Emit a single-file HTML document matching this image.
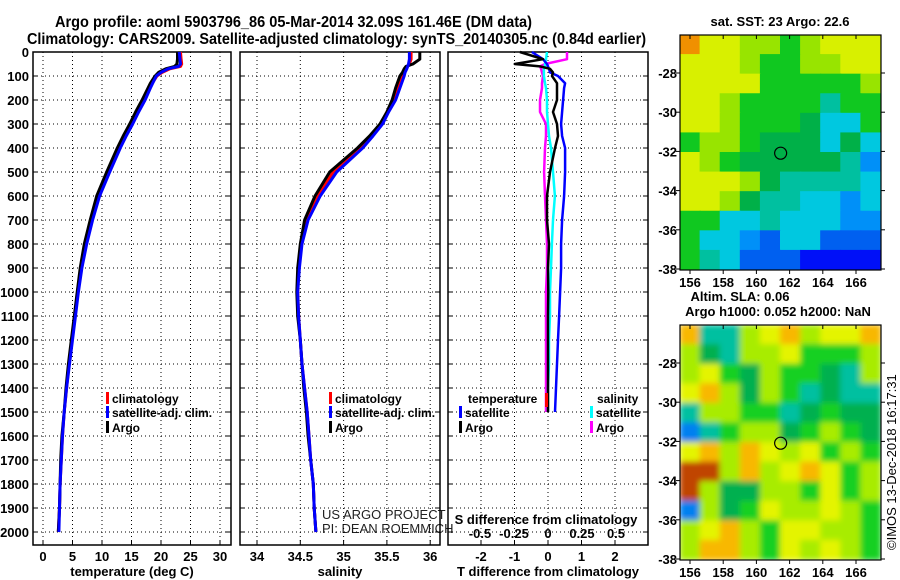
<!DOCTYPE html>
<html><head><meta charset="utf-8"><style>
body{margin:0;background:#fff;}
svg{display:block;font-family:"Liberation Sans",sans-serif;}
.b{font-weight:bold;}
</style></head><body>
<svg id="s" width="900" height="580" xmlns="http://www.w3.org/2000/svg">
<text x="55" y="27" class="b" font-size="16" textLength="477" lengthAdjust="spacingAndGlyphs">Argo profile: aoml 5903796_86 05-Mar-2014 32.09S 161.46E (DM data)</text>
<text x="27" y="44" class="b" font-size="16" textLength="619" lengthAdjust="spacingAndGlyphs">Climatology: CARS2009. Satellite-adjusted climatology: synTS_20140305.nc (0.84d earlier)</text>
<text x="780" y="26" class="b" font-size="13" text-anchor="middle">sat. SST: 23 Argo: 22.6</text>
<text x="740" y="301" class="b" font-size="13" text-anchor="middle">Altim. SLA: 0.06</text>
<text x="778" y="316" class="b" font-size="13" text-anchor="middle">Argo h1000: 0.052 h2000: NaN</text>
<text transform="translate(896,550) rotate(-90)" font-size="13">©IMOS 13-Dec-2018 16:17:31</text>
<text x="322" y="519" font-size="13" fill="#222">US ARGO PROJECT</text>
<text x="322" y="533" font-size="13" fill="#222">PI: DEAN ROEMMICH</text>
</svg>
<script>
// ---- data ----
const depths = [0,30,50,60,70,85,100,130,150,200,250,300,350,400,500,600,700,800,900,1000,1100,1200,1300,1400,1500,1600,1700,1800,1900,2000];
const argoT = [22.8,22.8,22.7,22.3,20.8,19.6,19.0,18.2,17.8,16.8,15.7,14.7,13.6,12.6,10.8,9.1,8.0,7.0,6.3,5.8,5.3,4.8,4.3,3.9,3.6,3.2,3.0,2.9,2.8,2.6];
const climT = [23.3,23.4,23.5,23.3,21.5,20.2,19.3,18.5,18.0,17.0,15.9,14.9,13.8,12.8,11.1,9.5,8.2,7.2,6.5,5.9,5.4,4.9,4.4,4.0,3.6,3.3,3.1,2.9,2.8,2.6];
const satT = [23.1,23.2,23.3,23.0,21.2,20.0,19.2,18.6,18.2,17.3,16.2,15.2,14.1,13.1,11.3,9.6,8.4,7.4,6.6,6.0,5.5,5.0,4.5,4.0,3.6,3.3,3.1,2.9,2.8,2.7];
const argoS = [35.88,35.88,35.8,35.72,35.7,35.68,35.65,35.62,35.6,35.56,35.5,35.42,35.3,35.16,34.84,34.67,34.55,34.5,34.47,34.46,34.47,34.5,34.52,34.54,34.57,34.59,34.62,34.65,34.66,34.68];
const climS = [35.78,35.78,35.76,35.74,35.72,35.7,35.68,35.64,35.62,35.57,35.5,35.43,35.32,35.19,34.88,34.7,34.57,34.51,34.48,34.47,34.48,34.5,34.52,34.55,34.58,34.6,34.62,34.65,34.66,34.68];
const satS = [35.76,35.76,35.75,35.74,35.73,35.71,35.7,35.67,35.65,35.6,35.52,35.45,35.34,35.22,34.92,34.73,34.59,34.52,34.49,34.47,34.48,34.5,34.52,34.55,34.58,34.6,34.62,34.65,34.66,34.68];
const diffDepths = [0,30,50,60,70,85,100,130,150,200,250,300,350,400,500,600,700,800,900,1000,1100,1200,1300,1400,1500];
const satTdiff = [-0.48,-0.15,-0.03,0,0.03,0.06,0.30,0.51,0.48,0.45,0.42,0.39,0.42,0.51,0.51,0.48,0.42,0.39,0.39,0.36,0.33,0.30,0.27,0.24,0.21];
const argoTdiff = [-0.84,-0.15,-0.99,-0.24,0.06,0.15,0.12,0.27,0.27,0.27,0.15,0.27,0.30,0.21,0.06,-0.03,-0.03,0.03,0,0.01,0,0,0,0,0];
const satSdiff = [-0.007,-0.015,-0.022,-0.022,-0.03,-0.03,-0.03,-0.022,-0.015,-0.007,-0.007,0,0.007,0.022,0.037,0.051,0.037,0.029,0.022,0.015,0.015,0.007,0.007,0,0];
const argoSdiff = [0.14,0.14,-0.022,-0.059,-0.051,-0.044,-0.037,-0.044,-0.044,-0.059,-0.059,-0.015,-0.015,-0.022,-0.029,-0.022,-0.015,-0.007,-0.007,-0.015,-0.015,-0.015,-0.015,-0.015,-0.015];
const depthTicks = [0,100,200,300,400,500,600,700,800,900,1000,1100,1200,1300,1400,1500,1600,1700,1800,1900,2000];
const tempTicks = [0,5,10,15,20,25,30];
const salTicks = [34,34.5,35,35.5,36];
const tdiffTicks = [-2,-1,0,1,2];
const sdiffTicks = [-0.5,-0.25,0,0.25,0.5];
const lonTicks = [156,158,160,162,164,166];
const latTicks = [-28,-30,-32,-34,-36,-38];
const sstGrid = ["OYYLLGLYYY","YYYLGGLLYY","YYYYGGGGGL","YYLGGGGTGG","YYLGGGDCCG","GLLGDDDCDC","YLGDDDDDTB","YYYLDTTTTC","YYLDTTCCBC","GGCCTCCCBB","GCCBNCCNNN","GTCNNNKKKK"];
const slaGrid = ["OTTLYOLYYO","LDTLLYGGGL","LYGDLGGDTL","YOLDLGTDTT","TLLGGTDGDD","BTGLLDGLGD","YOLOYLYGLG","RRLOLYOYGL","RLDDLLGYGL","BLDGYLLYLG","LYOLGYYLLG","LOOLGYLYLG"];

// ---- helpers ----
const svg = document.getElementById('s');
const NS = 'http://www.w3.org/2000/svg';
function mk(tag, attrs, parent){const e=document.createElementNS(NS,tag);for(const k in attrs)e.setAttribute(k,attrs[k]);(parent||svg).appendChild(e);return e;}
const TOP=52, BOT=545;
const yD = d => 52 + d*0.24;
const xT = t => 43 + t*5.9;
const xS = s => 257 + (s-34)*86.6;
const xTd = t => 548 + t*33.5;
const xSd = s => 548 + s*136;
const panels = [[33,231],[240,440],[448,648]];
const tickLabel = {0:tempTicks,1:salTicks,2:tdiffTicks};
const xf = [xT,xS,xTd];

panels.forEach((p,i)=>{
  const g = mk('g',{});
  
  
  depthTicks.forEach(d=>{
    if(d>0){
      const l=mk('line',{x1:p[0],x2:p[1],y1:yD(d),y2:yD(d),stroke:'#000','stroke-width':1,'stroke-dasharray':'1,3'},g);
      
      
    }
    mk('line',{x1:p[0],x2:p[0]+5,y1:yD(d),y2:yD(d),stroke:'#000'},g);
    mk('line',{x1:p[1],x2:p[1]-5,y1:yD(d),y2:yD(d),stroke:'#000'},g);
    if(i===0){
      const t=mk('text',{x:29,y:yD(d)+5,'text-anchor':'end','font-size':13,'font-weight':'bold'},g);
      t.textContent=d;
      
      
    }
  });
  tickLabel[i].forEach(v=>{
    const x=xf[i](v);
    const l=mk('line',{x1:x,x2:x,y1:TOP,y2:BOT,stroke:'#000','stroke-width':1,'stroke-dasharray':'1,3'},g);
    
    
    mk('line',{x1:x,x2:x,y1:BOT,y2:BOT-5,stroke:'#000'},g);
    const t=mk('text',{x:x,y:561,'text-anchor':'middle','font-size':13,'font-weight':'bold'},g);
    t.textContent=v;
    
    
  });
  const r=mk('rect',{x:p[0],y:TOP,width:p[1]-p[0],height:BOT-TOP,fill:'none',stroke:'#000','stroke-width':1.5},g);
  
  
});
sdiffTicks.forEach(v=>{
  const x=xSd(v);
  const t=mk('text',{x:x,y:538,'text-anchor':'middle','font-size':13,'font-weight':'bold'});
  t.textContent=String(v);
  
  
});
[['temperature (deg C)',132,'x-axis-title-temperature'],['salinity',340,'x-axis-title-salinity'],['T difference from climatology',548,'x-axis-title-t-diff']].forEach(a=>{
  const t=mk('text',{x:a[1],y:576,'text-anchor':'middle','font-size':13,'font-weight':'bold'});
  t.textContent=a[0];
  
  
});
const sdt=mk('text',{x:546,y:524,'text-anchor':'middle','font-size':13,'font-weight':'bold'});
sdt.textContent='S difference from climatology';



function stepLine(xs, ds, xfn, color, name, w){
  let pts=[];
  for(let i=0;i<xs.length;i++){
    pts.push(xfn(xs[i]).toFixed(1)+','+yD(ds[i]).toFixed(1));
  }
  const pl=mk('polyline',{points:pts.join(' '),fill:'none',stroke:color,'stroke-width':w||3,'stroke-linejoin':'round'});
  
  
}
stepLine(climT,depths,xT,'#f00','temperature-climatology-line');
stepLine(argoT,depths,xT,'#000','temperature-argo-line');
stepLine(satT,depths,xT,'#00f','temperature-satellite-line');
stepLine(climS,depths,xS,'#f00','salinity-climatology-line');
stepLine(argoS,depths,xS,'#000','salinity-argo-line');
stepLine(satS,depths,xS,'#00f','salinity-satellite-line');
stepLine(argoSdiff,diffDepths,xSd,'#f0f','s-diff-argo-line',2.5);
stepLine(satSdiff,diffDepths,xSd,'#0ff','s-diff-satellite-line',2.5);
stepLine(satTdiff,diffDepths,xTd,'#00f','t-diff-satellite-line',2.5);
stepLine(argoTdiff,diffDepths,xTd,'#000','t-diff-argo-line',2.5);
const rm=mk('rect',{x:545,y:393,width:3,height:14,fill:'#f00'});



function legend(x,y,color,label,name){
  if(color){const r=mk('rect',{x:x,y:y-10,width:3,height:12,fill:color});
    
    }
  const t=mk('text',{x:x+(color?6:0),y:y+1,'font-size':12,'font-weight':'bold'});
  t.textContent=label;
  
  
}
[[106,0],[329,1]].forEach(a=>{
  legend(a[0],402,'#f00','climatology','legend-climatology-'+a[1]);
  legend(a[0],416,'#00f','satellite-adj. clim.','legend-satellite-'+a[1]);
  legend(a[0],431,'#000','Argo','legend-argo-'+a[1]);
});
legend(468,402,null,'temperature','legend-temperature-header');
legend(597,402,null,'salinity','legend-salinity-header');
legend(459,416,'#00f','satellite','legend-t-satellite');
legend(459,431,'#000','Argo','legend-t-argo');
legend(590,416,'#0ff','satellite','legend-s-satellite');
legend(590,431,'#f0f','Argo','legend-s-argo');

// ---- maps ----
const sstCol={O:'#f09000',Y:'#d8f000',L:'#98e400',G:'#10c820',D:'#00b048',T:'#00c0a0',C:'#00c8e0',B:'#0090f8',N:'#0060f0',K:'#0010f8'};
const slaCol={O:'#f8b800',Y:'#e4f400',L:'#a8ec00',G:'#18d020',D:'#00b050',T:'#00c0a0',R:'#c04400',B:'#0080f0'};
const MX0=680,MX1=881;
const xLon = lon => 690 + (lon-156)*16.6;
function drawMap(y0,grid,cols,name,blur){
  const y1=y0+235;
  const g=mk('g',{});
  
  
  const cw=(MX1-MX0)/10, ch=235/12;
  const inner=mk('g',blur?{filter:'url(#bl)'}:{},g);
  grid.forEach((row,r)=>{for(let c=0;c<10;c++){
    mk('rect',{x:MX0+c*cw-0.5,y:y0+r*ch-0.5,width:cw+1,height:ch+1,fill:cols[row[c]]},inner);
  }});
  const yLat = lat => y0+38 + (-28-lat)*19.6;
  const circ=mk('circle',{cx:xLon(161.46),cy:yLat(-32.09),r:6,fill:'none',stroke:'#000','stroke-width':1.2},g);
  
  
  mk('rect',{x:MX0,y:y0,width:MX1-MX0,height:235,fill:'none',stroke:'#000','stroke-width':1.2},g);
  lonTicks.forEach(v=>{
    const x=xLon(v);
    mk('line',{x1:x,x2:x,y1:y0,y2:y0+4,stroke:'#000'},g);
    mk('line',{x1:x,x2:x,y1:y1,y2:y1+4,stroke:'#000'},g);
    const t=mk('text',{x:x,y:y1+17,'text-anchor':'middle','font-size':13,'font-weight':'bold'},g);
    t.textContent=v;
    
    
  });
  latTicks.forEach(v=>{
    const y=yLat(v);
    mk('line',{x1:MX0-4,x2:MX0,y1:y,y2:y,stroke:'#000'},g);
    mk('line',{x1:MX1,x2:MX1+4,y1:y,y2:y,stroke:'#000'},g);
    const t=mk('text',{x:677,y:y+5,'text-anchor':'end','font-size':13,'font-weight':'bold'},g);
    t.textContent=v;
    
    
  });
}
const defs=mk('defs',{});
const f=mk('filter',{id:'bl',x:0,y:0,width:1,height:1},defs);
mk('feGaussianBlur',{stdDeviation:3,edgeMode:'duplicate'},f);
drawMap(35,sstGrid,sstCol,'sst-map',false);
drawMap(325,slaGrid,slaCol,'sla-map',true);
</script>
</body></html>
